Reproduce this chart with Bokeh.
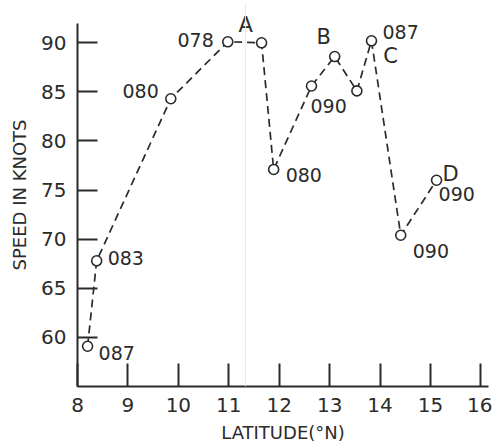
from bokeh.plotting import figure
from bokeh.models import ColumnDataSource, Range1d, FixedTicker, Span
from bokeh.core.properties import value, field
from bokeh.embed import file_html
from bokeh.resources import INLINE

# ---- data ----
latitude = [8.2, 8.38, 9.85, 10.98, 11.65, 11.89, 12.64, 13.1, 13.54, 13.83, 14.41, 15.12]
speed = [59.1, 67.8, 84.3, 90.1, 90.0, 77.1, 85.6, 88.6, 85.1, 90.2, 70.4, 76.0]
direction = ["087", "083", "080", "078", "", "080", "090", "", "", "087", "090", "090"]
markers = ["", "", "", "", "A", "", "", "B", "", "C", "", "D"]
x_ticks = [8, 9, 10, 11, 12, 13, 14, 15, 16]
y_ticks = [60, 65, 70, 75, 80, 85, 90]

# ---- label placement (screen pixel offsets, style only) ----
dir_dx = [11, 11, -12, -14, 0, 12, -1, 0, 0, 11, 12, 2]
dir_dy = [7, -3, -8, -2, 0, 6, 20, 0, 0, -9, 16, 14]
dir_align = ["left", "left", "right", "right", "left", "left", "left", "left", "left", "left", "left", "left"]
mk_dx = [0, 0, 0, 0, -16, 0, 0, -11, 0, 19, 0, 14]
mk_dy = [0, 0, 0, 0, -18, 0, 0, -20, 0, 15, 0, -6]

INK = "#2b2b2b"
FONT = "DejaVu Sans"

p = figure(width=492, height=445, output_backend="svg", toolbar_location=None,
           x_range=Range1d(8, 16.15), y_range=Range1d(55, 94),
           min_border_left=77, min_border_right=4, min_border_top=3, min_border_bottom=52)
p.outline_line_color = None
p.xgrid.visible = False
p.ygrid.visible = False
p.background_fill_color = "white"

# faint scan line
p.add_layout(Span(location=11.33, dimension="height", line_color="#e6e6e6", line_width=1))

for ax in (p.xaxis[0], p.yaxis[0]):
    ax.axis_line_color = INK
    ax.axis_line_width = 2
    ax.major_tick_line_color = INK
    ax.major_tick_line_width = 2
    ax.major_tick_out = 0
    ax.minor_tick_line_color = None
    ax.major_label_text_font = FONT
    ax.major_label_text_color = INK
    ax.major_label_text_font_style = "normal"
    ax.axis_label_text_font = FONT
    ax.axis_label_text_color = INK
    ax.axis_label_text_font_style = "normal"

p.yaxis.bounds = (55, 92)
p.xaxis.ticker = FixedTicker(ticks=x_ticks)
p.yaxis.ticker = FixedTicker(ticks=y_ticks)
p.xaxis.major_tick_in = 23
p.yaxis.major_tick_in = 20
p.xaxis.major_label_text_font_size = "20px"
p.yaxis.major_label_text_font_size = "20px"
p.xaxis.major_label_standoff = 11
p.yaxis.major_label_standoff = 11
p.xaxis.axis_label = "LATITUDE(°N)"
p.yaxis.axis_label = "SPEED IN KNOTS"
p.xaxis.axis_label_text_font_size = "18px"
p.yaxis.axis_label_text_font_size = "18px"
p.xaxis.axis_label_standoff = 7
p.yaxis.axis_label_standoff = 8

src = ColumnDataSource(dict(x=latitude, y=speed, d=direction, m=markers,
                            ddx=dir_dx, ddy=dir_dy, dal=dir_align, mdx=mk_dx, mdy=mk_dy))

p.line("x", "y", source=src, line_color=INK, line_width=1.7, line_dash="8 5")
p.scatter("x", "y", source=src, size=10, marker="circle", fill_color="white",
          line_color=INK, line_width=1.6)
p.text("x", "y", text="d", source=src, x_offset="ddx", y_offset="ddy",
       text_align=field("dal"), text_baseline="middle", text_font=value(FONT),
       text_font_size="19px", text_color=INK)
p.text("x", "y", text="m", source=src, x_offset="mdx", y_offset="mdy",
       text_align="center", text_baseline="middle", text_font=value(FONT),
       text_font_size="21px", text_color=INK)

open("out.html", "w").write(file_html(p, INLINE))
